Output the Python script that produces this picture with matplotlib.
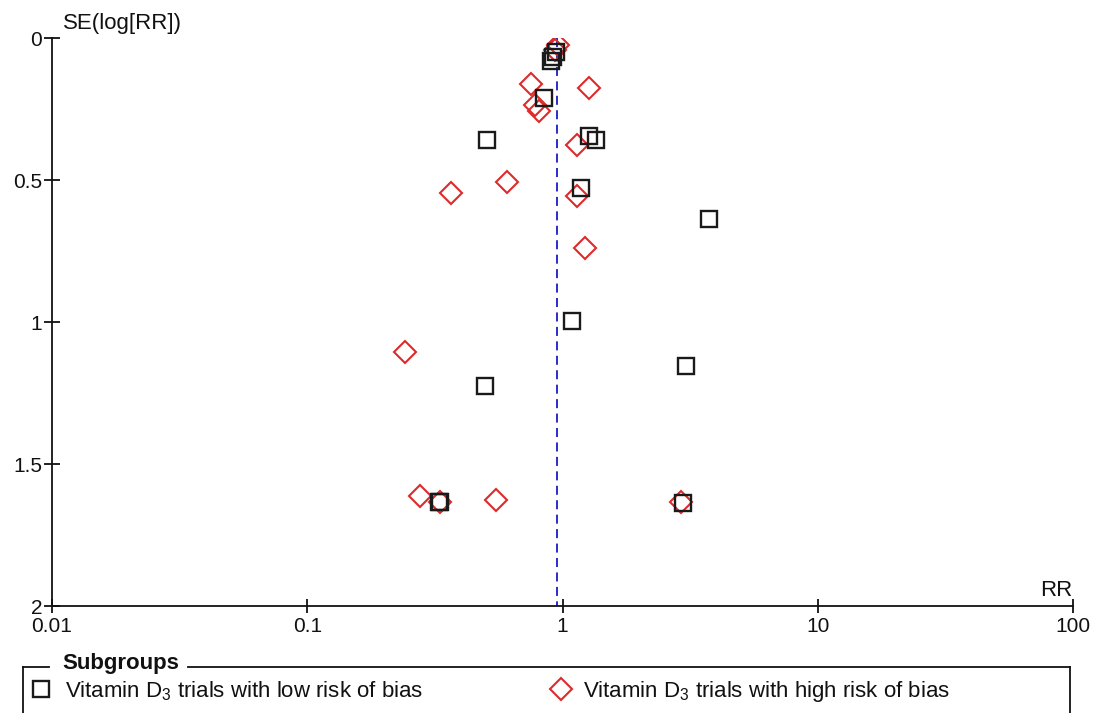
from matplotlib import pyplot as plt
from matplotlib.lines import Line2D
import numpy as np

plt.rcParams['font.family'] = ['Liberation Sans', 'DejaVu Sans']
plt.rcParams['mathtext.fontset'] = 'custom'
plt.rcParams['mathtext.rm'] = 'Liberation Sans'
plt.rcParams['mathtext.it'] = 'Liberation Sans:italic'

# low risk of bias trials (squares)
low_rr = [0.901, 0.918, 0.943, 0.846, 0.506, 1.27, 1.353, 1.182, 3.75,
          1.09, 3.05, 0.497, 0.328, 0.330, 2.97]
low_se = [0.081, 0.067, 0.049, 0.211, 0.359, 0.345, 0.359, 0.528, 0.637,
          0.996, 1.155, 1.225, 1.634, 1.634, 1.637]

# high risk of bias trials (diamonds)
high_rr = [0.960, 0.934, 0.753, 1.27, 0.780, 0.809, 1.14, 0.606, 0.366,
           1.14, 1.225, 0.2415, 0.2765, 0.331, 0.549, 2.91]
high_se = [0.025, 0.042, 0.162, 0.176, 0.236, 0.257, 0.377, 0.507, 0.546,
           0.556, 0.739, 1.106, 1.613, 1.634, 1.627, 1.634]

pooled_rr = 0.952
xticks = [0.01, 0.1, 1, 10, 100]
xticklabels = ["0.01", "0.1", "1", "10", "100"]
yticks = [0, 0.5, 1, 1.5, 2]
yticklabels = ["0", "0.5", "1", "1.5", "2"]

W, H = 1093, 713
fig = plt.figure(figsize=(W / 100, H / 100), dpi=100)
ax = fig.add_axes([52 / W, 1 - 606 / H, (1073 - 52) / W, (606 - 38) / H])

red = "#dd2b2b"
ax.plot([pooled_rr, pooled_rr], [0, 2], color="#1a1ac8", lw=1.3,
        dashes=(5, 3), zorder=1)
sq, = ax.plot(low_rr, low_se, linestyle="none", marker="s", ms=11,
              mfc="none", mec="#1a1a1a", mew=1.7, zorder=3)
di, = ax.plot(high_rr, high_se, linestyle="none", marker="D", ms=11,
              mfc="none", mec=red, mew=1.5, zorder=2)

ax.set_xscale("log")
ax.set_xlim(0.01, 100)
ax.set_ylim(2, 0)
ax.set_xticks(xticks)
ax.set_xticklabels(xticklabels)
ax.set_yticks(yticks)
ax.set_yticklabels(yticklabels)
ax.minorticks_off()
for s in ["top", "right"]:
    ax.spines[s].set_visible(False)
for s in ["left", "bottom"]:
    ax.spines[s].set_linewidth(1.3)
    ax.spines[s].set_color("#111111")
ax.tick_params(axis="x", direction="inout", length=10, width=1.3,
               labelsize=15, pad=3, colors="#111111")
ax.tick_params(axis="y", direction="inout", length=12, width=1.3,
               labelsize=15, pad=1, colors="#111111")
ax.patch.set_visible(False)

fig.text(63 / W, 1 - 23 / H, "SE(log[RR])", fontsize=16, va="center",
         ha="left", color="#111111")
fig.text(1072 / W, 1 - 591 / H, "RR", fontsize=16, va="center",
         ha="right", color="#111111")

# legend fieldset
lc = "#111111"
fy = 1 - 667 / H
fig.add_artist(Line2D([23 / W, 23 / W], [0, fy], color=lc, lw=1.3))
fig.add_artist(Line2D([1070 / W, 1070 / W], [0, fy], color=lc, lw=1.3))
fig.add_artist(Line2D([23 / W, 49 / W], [fy, fy], color=lc, lw=1.3))
fig.add_artist(Line2D([188 / W, 1070 / W], [fy, fy], color=lc, lw=1.3))
fig.text(62 / W, 1 - 664 / H, "Subgroups", fontsize=16, fontweight="bold",
         va="center", ha="left", color="#111111")

leg_y = 1 - 691 / H
fig.legend([sq], ["Vitamin D$_3$ trials with low risk of bias"],
           loc="center left", bbox_to_anchor=(32.6 / W, leg_y),
           frameon=False, fontsize=16, handlelength=0.8, handletextpad=0.65,
           borderpad=0, borderaxespad=0, labelcolor="#111111")
fig.legend([di], ["Vitamin D$_3$ trials with high risk of bias"],
           loc="center left", bbox_to_anchor=(550 / W, leg_y),
           frameon=False, fontsize=16, handlelength=1.0, handletextpad=0.49,
           borderpad=0, borderaxespad=0, labelcolor="#111111")

fig.savefig("out.png", dpi=100)
plt.close(fig)
